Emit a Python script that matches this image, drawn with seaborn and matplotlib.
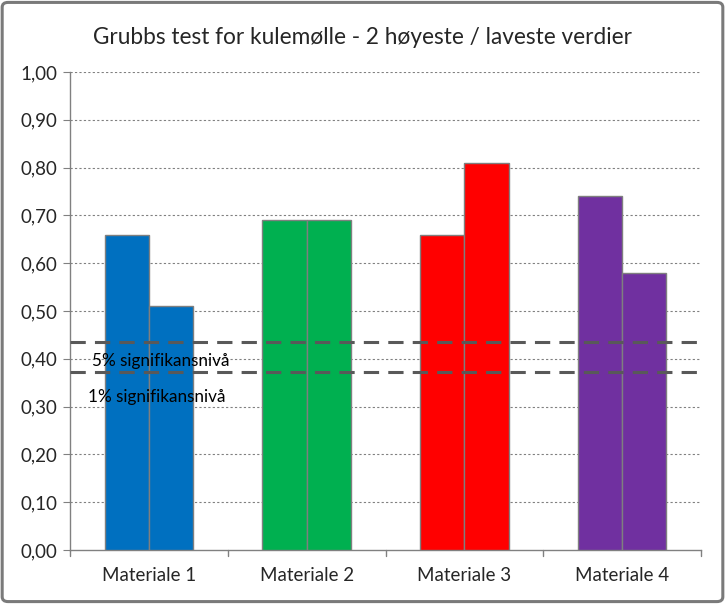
import matplotlib
matplotlib.use("Agg")
import matplotlib.pyplot as plt
import seaborn as sns
import pandas as pd
from matplotlib.patches import FancyBboxPatch

materials = ["Materiale 1", "Materiale 2", "Materiale 3", "Materiale 4"]
series = ["Verdi 1", "Verdi 2"]
first_values = [0.66, 0.69, 0.66, 0.74]
second_values = [0.51, 0.69, 0.81, 0.58]
colors = ["#0070C0", "#00B050", "#FF0000", "#7030A0"]
sig5 = 0.435
sig1 = 0.373
sig_labels = ["5% signifikansnivå", "1% signifikansnivå"]
title = "Grubbs test for kulemølle - 2 høyeste / laveste verdier"
yticks = [i / 10 for i in range(11)]

df = pd.DataFrame({
    "material": materials * 2,
    "serie": [series[0]] * 4 + [series[1]] * 4,
    "verdi": first_values + second_values,
})

sns.set_style("white")
plt.rcParams["font.family"] = ["Lato", "DejaVu Sans"]

fig = plt.figure(figsize=(7.25, 6.04), dpi=100)
ax = fig.add_axes([70 / 725, 1 - 550 / 604, (701 - 70) / 725, (550 - 72) / 604])

sns.barplot(data=df, x="material", y="verdi", hue="serie", ax=ax,
            width=0.56, gap=0, edgecolor="#7f7f7f", linewidth=1,
            legend=False, zorder=3, saturation=1)

for p in ax.patches:
    cx = p.get_x() + p.get_width() / 2
    idx = int(round(cx))
    if 0 <= idx < len(colors):
        p.set_facecolor(colors[idx])

ax.set_ylim(0, 1.0)
ax.set_xlim(-0.5, 3.5)
ax.set_yticks(yticks)
ax.set_yticklabels([f"{v:.2f}".replace(".", ",") for v in yticks], fontsize=13.5)
ax.set_xticks(range(4))
ax.set_xticklabels(materials, fontsize=13.5)
ax.tick_params(axis="x", length=0, pad=12)
ax.tick_params(axis="y", length=5, color="#808080", direction="out", left=True, pad=4)
for x in [-0.5, 0.5, 1.5, 2.5, 3.5]:
    ax.plot([x, x], [0, -0.012], color="#808080", lw=1, clip_on=False, zorder=4)
ax.set_xlabel("")
ax.set_ylabel("")

for y in yticks[1:]:
    ax.axhline(y, color="#808080", lw=0.8, ls=(0, (2, 2)), zorder=1)

ax.axhline(sig5, color="#595959", lw=2.2, ls=(0, (5, 3)), zorder=5)
ax.axhline(sig1, color="#595959", lw=2.2, ls=(0, (5, 3)), zorder=5)
ax.text(0.076, 0.395, sig_labels[0], fontsize=12.3, ha="center", va="center",
        color="#000000", zorder=6)
ax.text(0.05, 0.32, sig_labels[1], fontsize=12.3, ha="center", va="center",
        color="#000000", zorder=6)

for s in ["top", "right"]:
    ax.spines[s].set_visible(False)
for s in ["left", "bottom"]:
    ax.spines[s].set_color("#808080")
    ax.spines[s].set_linewidth(1)

fig.text(0.5, 1 - 37 / 604, title, ha="center", va="center", fontsize=16.3)

border = FancyBboxPatch((0.003, 0.004), 0.994, 0.992, boxstyle="round,pad=0,rounding_size=0.008",
                        transform=fig.transFigure, fill=False, edgecolor="#7a7a7a", lw=2.2)
fig.patches.append(border)

fig.savefig("out.png", dpi=100)
